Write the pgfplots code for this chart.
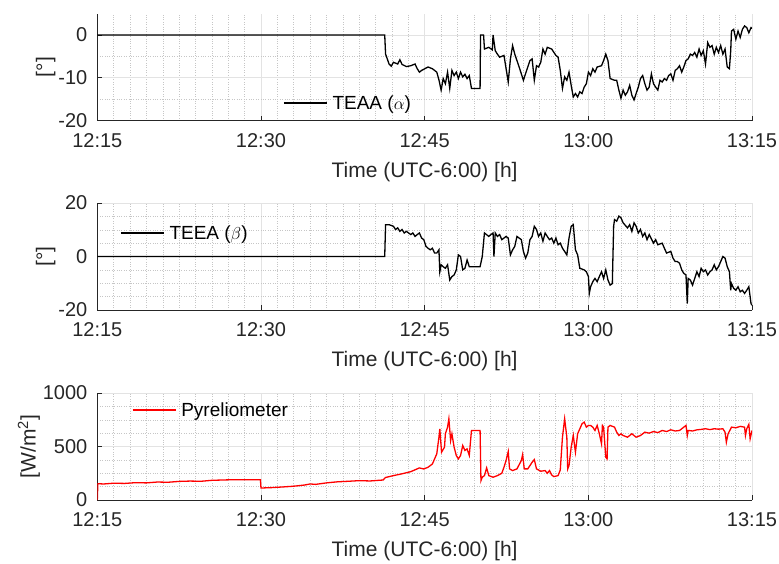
\documentclass[border=0pt]{standalone}
\usepackage{pgfplots}
\pgfplotsset{compat=1.18}
\usepackage{fontspec}
\setmainfont{Liberation Sans}
\definecolor{axcol}{rgb}{0.15,0.15,0.15}
\pgfplotsset{
  myax/.style={
    scale only axis, width=654.7pt, height=107pt,
    xmin=0, xmax=60,
    xtick={0,15,30,45,60},
    xticklabels={12:15,12:30,12:45,13:00,13:15},
    minor x tick num=9,
    axis x line*=bottom, axis y line*=left,
    axis line style={-, axcol, line width=0.6pt},
    tick align=inside,
    major tick length=5pt, minor tick length=0pt,
    tick style={axcol, line width=0.6pt},
    grid=both,
    major grid style={gray!22, line width=0.5pt},
    minor grid style={gray!45, dotted, line width=0.5pt},
    ticklabel style={font=\fontsize{20}{24}\selectfont, text=black!85},
    xticklabel style={yshift=-9pt},
    yticklabel style={xshift=-6.5pt},
    label style={font=\fontsize{21}{25}\selectfont, text=black!85},
    xlabel style={yshift=-8pt},
    ylabel style={yshift=-4pt},
    xlabel={Time (UTC-6:00) [h]},
    legend cell align=left,
    legend style={draw=none, fill=none, font=\fontsize{19}{23}\selectfont, inner sep=0pt, outer sep=0pt, column sep=3pt},
    legend image code/.code={\draw[#1] (0pt,0pt) -- (43pt,0pt);},
    clip=true,
  }
}
\begin{document}
\begin{tikzpicture}
\path[use as bounding box] (0pt,0pt) rectangle (779pt,-563pt);
% ---------- Axis 1 : TEAA ----------
\begin{axis}[myax, at={(97.3pt,-120.5pt)}, anchor=south west,
  ymin=-20, ymax=5, ytick={-20,-10,0}, yticklabels={-20,-10,0},
  minor y tick num=1,
  ylabel={[°]},
  legend style={at={(axis description cs:0.284,0.164)}, anchor=west}]
\addplot[black, line width=1.3pt] coordinates {
(0,0) (26.34,0) (26.42,-4.5) (26.74,-6.8) (26.94,-7.3) (27.14,-6.4) (27.53,-6.8) (27.73,-5.8) (27.93,-6.9) (28.33,-7.4) (28.73,-7.2) (29.12,-6.8) (29.32,-7.9) (29.52,-8.7) (29.72,-8.3) (30.31,-7.5) (30.71,-7.9) (31.11,-8.7) (31.31,-10.5) (31.51,-12.9) (31.70,-10.2) (31.90,-11.4) (32.10,-8.7) (32.30,-12.5) (32.50,-8.3) (32.70,-9.5) (32.90,-8.7) (33.09,-10.2) (33.29,-8.7) (33.49,-9.8) (33.69,-9.2) (33.89,-10.2) (34.09,-9.5) (34.29,-12.5) (35.08,-12.5) (35.12,0) (35.40,0) (35.48,-3.3) (35.88,-2.9) (36.20,-3.5) (36.27,0) (36.47,-3.7) (36.67,-4.5) (36.87,-5.2) (37.27,-4.8) (37.66,-11.0) (37.86,-5.6) (38.06,-2.5) (38.26,-4.5) (38.66,-7.5) (39.05,-10.6) (39.45,-7.5) (39.65,-6.0) (39.85,-5.6) (40.05,-10.6) (40.25,-7.2) (40.44,-7.5) (40.64,-6.4) (40.84,-3.3) (41.04,-4.5) (41.24,-2.9) (41.64,-3.3) (42.03,-4.8) (42.23,-5.2) (42.43,-8.3) (42.63,-12.5) (42.83,-9.8) (43.03,-10.6) (43.23,-8.7) (43.43,-11.8) (43.62,-14.5) (43.82,-13.7) (44.02,-14.5) (44.22,-13.3) (44.42,-13.7) (44.62,-12.2) (44.82,-11.4) (45.01,-8.7) (45.21,-9.5) (45.41,-7.9) (45.61,-8.7) (45.81,-7.5) (46.21,-7.2) (46.40,-6.0) (46.60,-4.5) (46.80,-6.0) (47.00,-10.2) (47.40,-10.6) (47.60,-10.6) (47.80,-12.9) (47.99,-14.8) (48.19,-12.9) (48.39,-14.1) (48.59,-13.3) (48.79,-11.8) (48.99,-14.1) (49.19,-15.2) (49.38,-13.7) (49.58,-12.2) (49.78,-10.2) (49.98,-9.5) (50.18,-11.4) (50.38,-12.9) (50.58,-12.2) (50.78,-9.1) (50.97,-11.4) (51.17,-12.2) (51.37,-12.9) (51.57,-10.6) (51.77,-11.0) (51.97,-10.2) (52.17,-10.6) (52.36,-9.5) (52.56,-9.1) (52.76,-10.6) (52.96,-8.3) (53.16,-7.9) (53.36,-7.2) (53.56,-8.7) (53.75,-7.5) (53.95,-6.0) (54.15,-5.6) (54.35,-4.5) (54.55,-4.8) (54.75,-4.1) (54.95,-5.2) (55.15,-3.3) (55.34,-4.8) (55.54,-3.7) (55.74,-6.8) (55.94,-1.8) (56.14,-2.9) (56.34,-2.5) (56.54,-4.5) (56.73,-2.9) (56.93,-4.1) (57.13,-2.5) (57.33,-4.5) (57.53,-3.3) (57.73,-7.5) (57.93,-7.9) (58.05,-3.7) (58.12,0.9) (58.32,1.3) (58.52,-1.0) (58.72,0.9) (58.92,-0.6) (59.12,1.3) (59.32,2.1) (59.52,1.7) (59.71,0.5) (59.91,1.7) (60,1.5)
};
\addlegendentry{TEAA ($\alpha$)}
\end{axis}
% ---------- Axis 2 : TEEA ----------
\begin{axis}[myax, at={(97.3pt,-310pt)}, anchor=south west,
  ymin=-20, ymax=20, ytick={-20,0,20}, yticklabels={-20,0,20},
  minor y tick num=3,
  ylabel={[°]},
  legend style={at={(axis description cs:0.035,0.72)}, anchor=west}]
\addplot[black, line width=1.3pt] coordinates {
(0,0) (26.34,0) (26.42,11.9) (26.74,11.9) (27.14,11.3) (27.33,10.1) (27.53,10.7) (27.73,9.4) (27.93,10.1) (28.13,8.8) (28.33,9.4) (28.73,8.2) (28.92,8.8) (29.12,7.5) (29.32,8.2) (29.52,8.8) (29.72,6.9) (29.92,6.3) (30.12,3.8) (30.31,3.1) (30.51,2.5) (30.71,3.1) (30.91,1.3) (31.11,1.3) (31.31,2.5) (31.39,-5.7) (31.51,-3.1) (31.70,-3.8) (31.90,-4.4) (32.10,-3.1) (32.30,-8.8) (32.50,-7.5) (32.70,-6.9) (32.90,-5.0) (33.09,0.6) (33.29,0) (33.49,-5.0) (33.69,-4.4) (33.89,-1.3) (34.09,-3.8) (35.08,-3.8) (35.28,0) (35.48,8.8) (35.88,7.5) (36.07,8.2) (36.27,8.8) (36.35,0) (36.47,8.8) (36.67,7.5) (36.87,8.2) (37.07,6.3) (37.27,6.9) (37.46,7.5) (37.66,6.9) (37.86,0.6) (38.06,2.5) (38.26,3.8) (38.46,7.5) (38.86,6.3) (39.05,1.9) (39.25,-0.6) (39.45,1.3) (39.65,6.3) (39.85,7.5) (40.05,11.3) (40.25,10.1) (40.44,7.5) (40.64,8.8) (40.84,5.7) (41.04,8.8) (41.24,7.5) (41.44,6.3) (41.64,6.9) (41.84,5.0) (42.03,6.9) (42.23,4.4) (42.43,5.0) (42.63,3.1) (42.83,1.9) (43.03,0.6) (43.23,6.9) (43.43,11.3) (43.62,11.9) (43.82,2.5) (44.02,0.6) (44.22,-4.4) (44.62,-5.0) (44.82,-5.7) (45.01,-7.5) (45.09,-13.8) (45.21,-11.3) (45.41,-9.4) (45.61,-8.2) (45.81,-9.4) (46.01,-7.5) (46.21,-5.7) (46.40,-8.2) (46.60,-5.0) (46.80,-8.8) (47.00,-10.7) (47.20,-10.1) (47.32,11.3) (47.40,13.8) (47.60,13.2) (47.80,15.1) (47.99,14.5) (48.19,12.6) (48.59,10.7) (48.79,11.9) (48.99,9.4) (49.19,12.6) (49.38,11.3) (49.58,8.8) (49.78,10.1) (49.98,7.5) (50.18,8.8) (50.38,6.3) (50.58,8.2) (50.97,5.0) (51.17,6.3) (51.37,4.4) (51.77,5.0) (51.97,3.1) (52.17,1.3) (52.56,1.9) (52.76,-0.6) (52.96,-1.9) (53.16,-1.9) (53.36,-2.5) (53.56,-5.0) (53.75,-6.3) (53.95,-6.9) (54.07,-17.6) (54.15,-8.2) (54.35,-8.8) (54.55,-10.7) (54.75,-8.2) (54.95,-5.7) (55.15,-7.5) (55.34,-4.4) (55.54,-5.7) (55.74,-5.0) (55.94,-6.9) (56.14,-5.7) (56.34,-5.0) (56.54,-3.1) (56.73,-5.0) (56.93,-3.8) (57.13,-1.9) (57.33,0) (57.53,-0.6) (57.73,-3.8) (57.93,-5.7) (58.05,-12.6) (58.12,-10.1) (58.32,-11.9) (58.52,-12.6) (58.72,-11.3) (58.92,-13.2) (59.12,-12.6) (59.32,-13.8) (59.52,-12.6) (59.71,-11.3) (59.91,-17.6) (60,-18.2)
};
\addlegendentry{TEEA ($\beta$)}
\end{axis}
% ---------- Axis 3 : Pyreliometer ----------
\begin{axis}[myax, at={(97.3pt,-500pt)}, anchor=south west,
  ymin=0, ymax=1000, ytick={0,500,1000}, yticklabels={0,500,1000},
  minor y tick num=3,
  ylabel={[W/m\textsuperscript{2}]},
  legend style={at={(axis description cs:0.053,0.84)}, anchor=west}]
\addplot[red, line width=1.3pt] coordinates {
(0,0) (0.05,152) (0.6,150) (1.5,157) (2.5,155) (3.5,162) (4.5,160) (5.5,168) (6.5,166) (7.5,174) (8.5,177) (9.5,175) (10.5,184) (11.5,187) (12.5,190) (14.95,190) (15.0,112) (16,116) (17,122) (18,129) (19,140) (19.5,150) (20,146) (21,160) (22,170) (23,175) (24,181) (25,178) (26.2,187) (26.4,210) (27.14,228) (27.93,245) (28.73,265) (29.52,300) (29.92,290) (30.31,306) (30.71,337) (31.11,431) (31.31,587) (31.39,665) (31.55,447) (31.82,494) (31.90,619) (32.10,681) (32.22,759) (32.38,556) (32.50,619) (32.70,494) (32.90,416) (33.09,384) (33.29,416) (33.49,509) (33.69,463) (33.89,478) (34.09,416) (34.29,650) (35.08,650) (35.16,181) (35.28,213) (35.48,228) (35.68,300) (35.88,228) (36.27,213) (36.67,228) (37.07,250) (37.27,306) (37.46,369) (37.66,453) (37.78,291) (38.06,275) (38.46,291) (38.86,369) (38.98,425) (39.13,291) (39.45,291) (39.85,353) (40.05,378) (40.25,291) (40.64,269) (41.04,275) (41.24,250) (41.44,275) (41.64,234) (41.84,219) (42.23,228) (42.43,281) (42.63,587) (42.83,759) (43.03,587) (43.11,290) (43.23,322) (43.43,494) (43.62,603) (43.82,447) (44.02,619) (44.22,665) (44.42,712) (44.62,728) (44.82,681) (45.01,697) (45.21,697) (45.41,681) (45.61,650) (45.81,697) (46.01,619) (46.21,525) (46.29,697) (46.40,681) (46.60,400) (46.72,384) (46.80,681) (47.00,697) (47.40,681) (47.60,634) (47.80,603) (47.99,619) (48.19,603) (48.59,587) (48.99,619) (49.38,587) (49.78,603) (50.18,634) (50.58,625) (50.97,640) (51.37,630) (51.77,650) (52.17,640) (52.56,656) (52.96,645) (53.36,650) (53.95,697) (54.07,603) (54.15,650) (54.55,645) (54.95,656) (55.34,660) (55.74,666) (56.14,658) (56.54,666) (56.93,662) (57.33,666) (57.53,634) (57.65,540) (57.81,619) (58.12,681) (58.52,675) (58.92,688) (59.32,681) (59.40,603) (59.52,666) (59.71,706) (59.83,572) (60,650)
};
\addlegendentry{Pyreliometer}
\end{axis}
\end{tikzpicture}
\end{document}
